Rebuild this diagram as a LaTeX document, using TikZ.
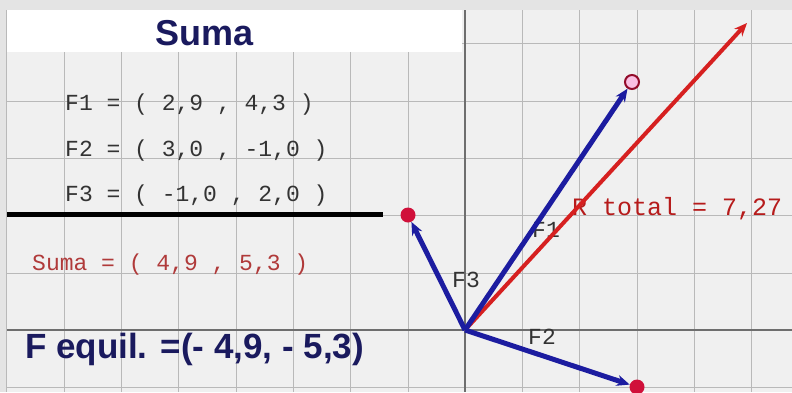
\documentclass[tikz,border=0pt]{standalone}
\usepackage{fontspec}
\setmainfont{Liberation Sans}
\setmonofont{Liberation Mono}
\usetikzlibrary{arrows.meta}

\definecolor{frame}{HTML}{E4E4E4}
\definecolor{paper}{HTML}{F0F0F0}
\definecolor{gridline}{HTML}{B9B9B9}
\definecolor{axisline}{HTML}{6E6E6E}
\definecolor{navy}{HTML}{1A1A5E}
\definecolor{vecblue}{HTML}{1C1CA0}
\definecolor{vecred}{HTML}{D62020}
\definecolor{sumred}{HTML}{B03A3A}
\definecolor{dotred}{HTML}{D0103A}

\begin{document}
\begin{tikzpicture}[
    x=1pt, y=-1pt,
    >={Stealth[length=13pt,width=11pt]},
    mono/.style={font=\fontsize{23}{26}\selectfont\ttfamily, text=black!80, inner sep=0pt, anchor=base west},
    bigsans/.style={font=\fontsize{35}{40}\selectfont\bfseries, text=navy, inner sep=0pt, anchor=base west},
    tip/.style={circle, fill=dotred, minimum size=15pt, inner sep=0pt},
    ring/.style={circle, draw=dotred!70!black, fill=magenta!25, line width=2pt, minimum size=14pt, inner sep=0pt},
    force/.style={->, line width=5pt, draw=vecblue},
    result/.style={->, line width=4pt, draw=vecred}
]
\useasboundingbox (0,0) rectangle (792,392);

% sheet and grid
\fill[frame] (0,0) rectangle (792,392);
\fill[paper] (7,10) rectangle (792,392);
\foreach \i in {-8,...,6}
    \draw[gridline] ({465+57.3*\i},10) -- ({465+57.3*\i},392);
\foreach \j in {-5,...,1}
    \draw[gridline] (7,{330+57.3*\j}) -- (792,{330+57.3*\j});
\draw[axisline, line width=1.2pt] (465,10) -- (465,392);
\draw[axisline, line width=1.2pt] (7,330) -- (792,330);

% left panel
\fill[white] (7,10) rectangle (462,52);
\node[bigsans, font=\fontsize{36}{40}\selectfont\bfseries] (head) at (155,45) {Suma};
\node[mono] (f1) at (65,110) {F1 = ( 2,9 , 4,3 )};
\node[mono] (f2) at (65,156) {F2 = ( 3,0 , -1,0 )};
\node[mono] (f3) at (65,201) {F3 = ( -1,0 , 2,0 )};
\draw[line width=5pt] (7,214) -- (383,214);
\node[mono, text=sumred] (sum) at (32,270) {Suma = ( 4,9 , 5,3 )};
\node[bigsans] (equil) at (25,358) {F equil. =(- 4,9, - 5,3)};

% vectors
\coordinate (O) at (465,330);
\coordinate (R) at (747,23);
\node[ring] (p1) at (632,82) {};
\node[tip] (p2) at (637,387) {};
\node[tip] (p3) at (408,215) {};

\node[mono] (lab1) at (532,237) {F1};
\node[mono] (lab2) at (528,344) {F2};
\node[mono] (lab3) at (452,287) {F3};
\node[mono, font=\fontsize{25}{28}\selectfont\ttfamily, text=vecred!85!black] (labR) at (572,215) {R total = 7,27};

\draw[result] (O) -- (R);
\draw[force] (O) -- (p1);
\draw[force] (O) -- (p2);
\draw[force] (O) -- (p3);
\end{tikzpicture}
\end{document}
